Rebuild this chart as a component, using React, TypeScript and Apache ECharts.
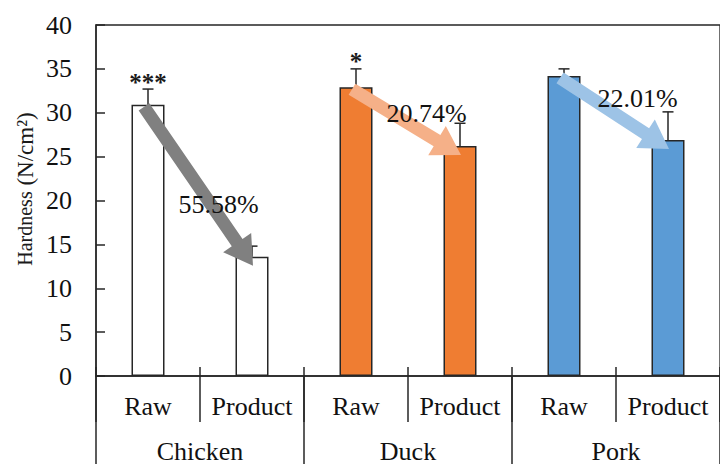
import React, { useEffect, useRef } from 'react';
import * as echarts from 'echarts';

// ---- data ----
const meats = ['Chicken', 'Duck', 'Pork'];
const states = ['Raw', 'Product'];
const hardness = [30.9, 13.6, 32.9, 26.2, 34.2, 26.9];
const errorUpper = [32.7, 14.8, 35.0, 28.8, 35.0, 30.1];
const significance = ['***', '', '*', '', '', ''];
const reductionLabels = ['55.58%', '20.74%', '22.01%'];
const yMin = 0;
const yMax = 40;
const yInterval = 5;

// ---- styles ----
const FONT = 'Liberation Serif';
const barColors = ['#FFFFFF', '#EF7D32', '#5B9BD5'];
const arrowColors = ['#808080', '#F5B088', '#9DC3E6'];
const labelOffsets = [
  [20, 18],
  [20, -9],
  [23, -15],
];
const LINE = '#262626';

const subCategories = meats.flatMap(() => states);

export default function App() {
  const ref = useRef<HTMLDivElement>(null);
  useEffect(() => {
    if (!ref.current) return;
    const chart = echarts.init(ref.current, null, { renderer: 'svg' });

    const barData = hardness.map((v, i) => ({
      value: v,
      itemStyle: {
        color: barColors[Math.floor(i / 2)],
        borderColor: LINE,
        borderWidth: 1.5,
      },
    }));

    const errData = hardness.map((v, i) => [i, v, errorUpper[i]]);
    const arrowData = meats.map((_, g) => [
      g * 2,
      hardness[g * 2],
      g * 2 + 1,
      hardness[g * 2 + 1],
    ]);

    const option: any = {
      animation: false,
      grid: {
        left: 96,
        top: 25,
        right: -9,
        bottom: 87,
        show: true,
        borderColor: LINE,
        borderWidth: 1.3,
      },
      graphic: [
        {
          type: 'text',
          x: 25,
          y: 189,
          rotation: Math.PI / 2,
          style: {
            text: '{a|Hardness}{b| (N/cm²)}',
            align: 'center',
            verticalAlign: 'middle',
            fill: '#1a1a1a',
            rich: {
              a: { fontSize: 20, fontFamily: FONT, fill: '#1a1a1a' },
              b: { fontSize: 23, fontFamily: FONT, fill: '#1a1a1a' },
            },
          },
        },
      ],
      xAxis: [
        {
          type: 'category',
          data: subCategories,
          position: 'bottom',
          axisLine: { show: true, lineStyle: { color: LINE, width: 1.5 } },
          axisTick: { show: true, interval: 0, length: 46, lineStyle: { color: LINE, width: 1.5 } },
          axisLabel: { interval: 0, hideOverlap: false, fontSize: 26, color: '#111', fontFamily: FONT, margin: 17 },
        },
        {
          type: 'category',
          data: meats,
          position: 'bottom',
          axisLine: { show: false },
          axisTick: { show: true, interval: 0, length: 100, lineStyle: { color: LINE, width: 1.5 } },
          axisLabel: { interval: 0, fontSize: 26, color: '#111', fontFamily: FONT, margin: 62 },
        },
        {
          type: 'category',
          data: subCategories,
          position: 'bottom',
          axisLine: { show: false },
          axisTick: { show: true, interval: 0, inside: true, length: 9, lineStyle: { color: LINE, width: 1.5 } },
          axisLabel: { show: false, interval: 0 },
        },
      ],
      yAxis: {
        type: 'value',
        min: yMin,
        max: yMax,
        interval: yInterval,
        axisLine: { show: true, lineStyle: { color: LINE, width: 1.5 } },
        axisTick: { show: true, inside: true, length: 9, lineStyle: { color: LINE, width: 1.5 } },
        axisLabel: { fontSize: 26, color: '#111', fontFamily: FONT, margin: 24 },
        splitLine: { show: false },
      },
      series: [
        {
          type: 'bar',
          xAxisIndex: 0,
          yAxisIndex: 0,
          data: barData,
          barWidth: 33,
          z: 2,
        },
        {
          type: 'custom',
          xAxisIndex: 0,
          yAxisIndex: 0,
          z: 3,
          data: errData,
          renderItem: (params: any, api: any) => {
            const idx = api.value(0);
            const top = api.coord([idx, api.value(1)]);
            const up = api.coord([idx, api.value(2)]);
            const star = significance[params.dataIndex];
            const children: any[] = [
              {
                type: 'line',
                shape: { x1: top[0], y1: top[1], x2: up[0], y2: up[1] },
                style: { stroke: LINE, lineWidth: 1.5 },
              },
              {
                type: 'line',
                shape: { x1: up[0] - 5.5, y1: up[1], x2: up[0] + 5.5, y2: up[1] },
                style: { stroke: LINE, lineWidth: 1.5 },
              },
            ];
            if (star) {
              children.push({
                type: 'text',
                x: up[0],
                y: up[1] - 7,
                style: {
                  text: star,
                  fontSize: 25,
                  fontFamily: FONT,
                  fontWeight: 'bold',
                  fill: '#1a1a1a',
                  align: 'center',
                  verticalAlign: 'middle',
                },
              });
            }
            return { type: 'group', children };
          },
        },
        {
          type: 'custom',
          xAxisIndex: 0,
          yAxisIndex: 0,
          z: 5,
          data: arrowData,
          renderItem: (params: any, api: any) => {
            const g = params.dataIndex;
            const a = api.coord([api.value(0), api.value(1)]);
            const b = api.coord([api.value(2), api.value(3)]);
            const p0 = [a[0] - 4, a[1] + 2];
            const p1 = [b[0] + 1, b[1] + 9];
            const dx = p1[0] - p0[0];
            const dy = p1[1] - p0[1];
            const len = Math.sqrt(dx * dx + dy * dy);
            const u = [dx / len, dy / len];
            const n = [-u[1], u[0]];
            const sw = 6.5;
            const hw = 17;
            const hl = 28;
            const base = [p1[0] - u[0] * hl, p1[1] - u[1] * hl];
            const pt = (p: number[], k: number) => [p[0] + n[0] * k, p[1] + n[1] * k];
            const points = [
              pt(p0, sw),
              pt(base, sw),
              pt(base, hw),
              p1,
              pt(base, -hw),
              pt(base, -sw),
              pt(p0, -sw),
            ];
            const mid = [(p0[0] + p1[0]) / 2, (p0[1] + p1[1]) / 2];
            const off = labelOffsets[g];
            return {
              type: 'group',
              children: [
                {
                  type: 'polygon',
                  shape: { points },
                  style: { fill: arrowColors[g] },
                },
                {
                  type: 'text',
                  x: mid[0] + off[0],
                  y: mid[1] + off[1],
                  z2: 10,
                  style: {
                    text: reductionLabels[g],
                    fontSize: 26,
                    fontFamily: FONT,
                    fill: '#111',
                    align: 'center',
                    verticalAlign: 'middle',
                  },
                },
              ],
            };
          },
        },
      ],
    };

    chart.setOption(option);
    return () => chart.dispose();
  }, []);

  return (
    <div
      ref={ref}
      style={{ position: 'absolute', left: 0, top: 0, width: 720, height: 464 }}
    />
  );
}
